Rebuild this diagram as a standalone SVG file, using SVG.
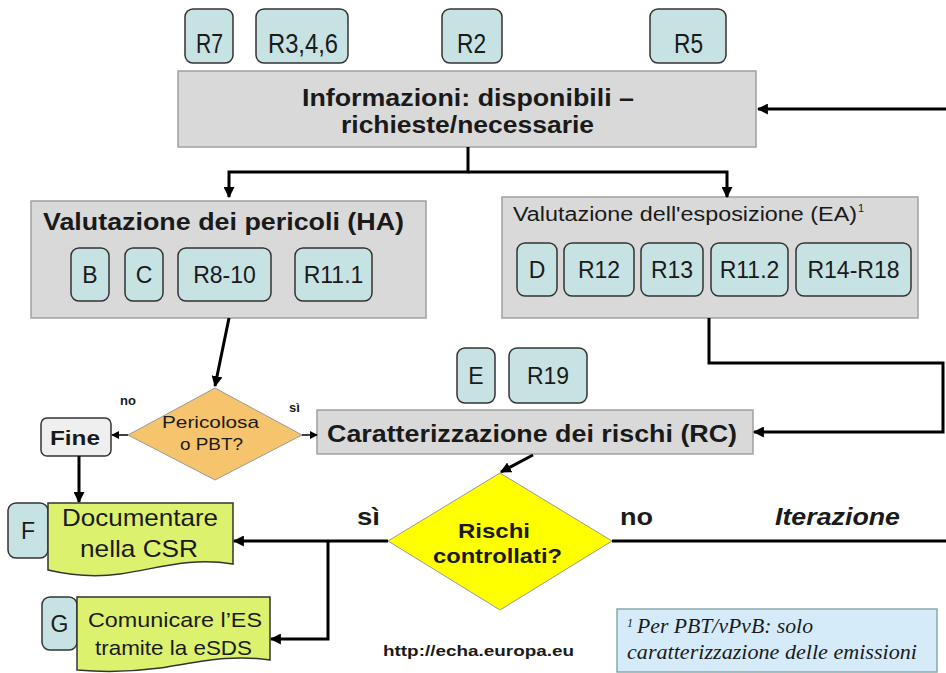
<svg xmlns="http://www.w3.org/2000/svg" width="946" height="673" viewBox="0 0 946 673">
<defs>
<marker id="ah" viewBox="0 0 10 10" refX="9" refY="5" markerWidth="11" markerHeight="11" markerUnits="userSpaceOnUse" orient="auto"><path d="M0,0 L10,5 L0,10 z" fill="#000"/></marker>
<marker id="ahs" viewBox="0 0 10 10" refX="9" refY="5" markerWidth="8" markerHeight="8" markerUnits="userSpaceOnUse" orient="auto"><path d="M0,0 L10,5 L0,10 z" fill="#000"/></marker>
</defs>
<style>
.tag{fill:#c6e2e3;stroke:#333;stroke-width:1.5}
.tt{font-family:"Liberation Sans",Arial,sans-serif;font-size:23px;fill:#1a1a1a;text-anchor:middle}
.tn{font-family:"Liberation Sans",Arial,sans-serif;font-size:28px;fill:#1a1a1a}
.gbox{fill:#d9d9d9;stroke:#a0a0a0;stroke-width:1.5}
.bt{font-family:"Liberation Sans",Arial,sans-serif;font-weight:bold;fill:#1a1a1a}
.rt{font-family:"Liberation Sans",Arial,sans-serif;fill:#1a1a1a}
.doc{fill:#dcf26e;stroke:#333;stroke-width:1.5}
.c{fill:none;stroke:#000;stroke-width:3}
.cs{fill:none;stroke:#000;stroke-width:1.5}
</style>
<rect width="946" height="673" fill="#fff"/>

<g id="top-tags">
<rect class="tag" x="185" y="9" width="48" height="54" rx="8"/><text class="tn" x="196" y="53" textLength="27" lengthAdjust="spacingAndGlyphs">R7</text>
<rect class="tag" x="256" y="9" width="92" height="54" rx="8"/><text class="tn" x="268" y="53" textLength="70" lengthAdjust="spacingAndGlyphs">R3,4,6</text>
<rect class="tag" x="442" y="9" width="60" height="54" rx="8"/><text class="tn" x="457" y="53" textLength="29" lengthAdjust="spacingAndGlyphs">R2</text>
<rect class="tag" x="650" y="9" width="76" height="54" rx="8"/><text class="tn" x="674" y="53" textLength="29" lengthAdjust="spacingAndGlyphs">R5</text>
</g>

<g id="info">
<rect class="gbox" x="178" y="71" width="578" height="76"/>
<text class="bt" x="302" y="106" font-size="23" textLength="332" lengthAdjust="spacingAndGlyphs">Informazioni: disponibili –</text>
<text class="bt" x="341" y="133" font-size="23" textLength="253" lengthAdjust="spacingAndGlyphs">richieste/necessarie</text>
</g>

<g id="ha">
<rect class="gbox" x="31" y="201" width="395" height="117"/>
<text class="bt" x="43" y="230" font-size="23" textLength="361" lengthAdjust="spacingAndGlyphs">Valutazione dei pericoli (HA)</text>
<rect class="tag" x="71" y="248" width="38" height="53" rx="8"/><text class="tt" x="90" y="283">B</text>
<rect class="tag" x="125" y="248" width="38" height="53" rx="8"/><text class="tt" x="144" y="283">C</text>
<rect class="tag" x="178" y="248" width="93" height="53" rx="8"/><text class="tt" x="224.5" y="283">R8-10</text>
<rect class="tag" x="295" y="248" width="77" height="53" rx="8"/><text class="tt" x="333.5" y="283">R11.1</text>
</g>

<g id="ea">
<rect class="gbox" x="502" y="197" width="416" height="121"/>
<text class="rt" x="513" y="221" font-size="20" textLength="344" lengthAdjust="spacingAndGlyphs">Valutazione dell'esposizione (EA)</text>
<text class="rt" x="858" y="212" font-size="11">1</text>
<rect class="tag" x="517" y="243" width="40" height="53" rx="8"/><text class="tt" x="537" y="278">D</text>
<rect class="tag" x="564" y="243" width="70" height="53" rx="8"/><text class="tt" x="599" y="278">R12</text>
<rect class="tag" x="641" y="243" width="62" height="53" rx="8"/><text class="tt" x="672" y="278">R13</text>
<rect class="tag" x="711" y="243" width="77" height="53" rx="8"/><text class="tt" x="749.5" y="278">R11.2</text>
<rect class="tag" x="796" y="243" width="115" height="53" rx="8"/><text class="tt" x="853.5" y="278">R14-R18</text>
</g>

<g id="pericolosa">
<polygon points="215,388 302,435 215,480 128,435" fill="#f5c46c" stroke="#999" stroke-width="1"/>
<text class="rt" x="162" y="428" font-size="17" textLength="97" lengthAdjust="spacingAndGlyphs">Pericolosa</text>
<text class="rt" x="180" y="450" font-size="17" textLength="63" lengthAdjust="spacingAndGlyphs">o PBT?</text>
</g>

<g id="fine">
<rect x="41" y="418" width="70" height="38" rx="6" fill="#efefef" stroke="#333" stroke-width="1.5"/>
<text class="bt" x="50" y="445" font-size="21" textLength="50" lengthAdjust="spacingAndGlyphs">Fine</text>
</g>

<g id="er19">
<rect class="tag" x="457" y="348" width="38" height="55" rx="8"/><text class="tt" x="476" y="384">E</text>
<rect class="tag" x="509" y="348" width="78" height="55" rx="8"/><text class="tt" x="548" y="384">R19</text>
</g>

<g id="rc">
<rect class="gbox" x="317" y="410" width="436" height="44"/>
<text class="bt" x="327" y="442" font-size="23" textLength="410" lengthAdjust="spacingAndGlyphs">Caratterizzazione dei rischi (RC)</text>
</g>

<g id="rischi">
<polygon points="500,473 612,541 500,610 388,541" fill="#ffff00" stroke="#999" stroke-width="1"/>
<text class="bt" x="458" y="538" font-size="21" textLength="72" lengthAdjust="spacingAndGlyphs">Rischi</text>
<text class="bt" x="433" y="563" font-size="21" textLength="129" lengthAdjust="spacingAndGlyphs">controllati?</text>
</g>

<g id="docF">
<rect class="tag" x="8" y="503" width="40" height="55" rx="8"/><text class="tt" x="28" y="539">F</text>
<path class="doc" d="M48,503 H233 V564 C190,557 160,568 120,574 C90,578 65,574 48,570 Z"/>
<text class="rt" x="62" y="526" font-size="24" textLength="156" lengthAdjust="spacingAndGlyphs">Documentare</text>
<text class="rt" x="80" y="557" font-size="24" textLength="118" lengthAdjust="spacingAndGlyphs">nella CSR</text>
</g>

<g id="docG">
<rect class="tag" x="42" y="597" width="35" height="53" rx="8"/><text class="tt" x="59.5" y="632">G</text>
<path class="doc" d="M77,597 H270 V660 C230,654 200,662 160,668 C130,672 100,672 77,670 Z"/>
<text class="rt" x="88" y="627" font-size="21" textLength="174" lengthAdjust="spacingAndGlyphs">Comunicare l’ES</text>
<text class="rt" x="95" y="655" font-size="21" textLength="157" lengthAdjust="spacingAndGlyphs">tramite la eSDS</text>
</g>

<g id="note">
<rect x="617" y="609" width="320" height="63" fill="#d6ebfa" stroke="#8aa" stroke-width="1.5"/>
<text x="627" y="627" font-family="'Liberation Serif','Times New Roman',serif" font-style="italic" font-size="12" fill="#1a1a1a">1</text>
<text x="637" y="633" font-family="'Liberation Serif','Times New Roman',serif" font-style="italic" font-size="20" fill="#1a1a1a" textLength="176" lengthAdjust="spacingAndGlyphs">Per PBT/vPvB: solo</text>
<text x="627" y="659" font-family="'Liberation Serif','Times New Roman',serif" font-style="italic" font-size="20" fill="#1a1a1a" textLength="290" lengthAdjust="spacingAndGlyphs">caratterizzazione delle emissioni</text>
</g>

<g id="labels">
<text class="bt" x="120" y="405" font-size="13">no</text>
<text class="bt" x="289" y="412" font-size="13">sì</text>
<text class="bt" x="357" y="525" font-size="23" textLength="23" lengthAdjust="spacingAndGlyphs">sì</text>
<text class="bt" x="620" y="525" font-size="23" textLength="33" lengthAdjust="spacingAndGlyphs">no</text>
<text class="bt" x="775" y="525" font-size="23" font-style="italic" textLength="125" lengthAdjust="spacingAndGlyphs">Iterazione</text>
<text class="bt" x="383" y="656" font-size="15" textLength="191" lengthAdjust="spacingAndGlyphs">http://echa.europa.eu</text>
</g>

<g id="connectors">
<path class="c" d="M946,109 H758" marker-end="url(#ah)"/>
<path class="c" d="M468,147 V172 H229 V197" marker-end="url(#ah)"/>
<path class="c" d="M468,172 H727 V197" marker-end="url(#ah)"/>
<path class="c" d="M229,318 L215,386" marker-end="url(#ah)"/>
<path class="cs" d="M128,435 H112" marker-end="url(#ahs)"/>
<path class="cs" d="M302,435 H317" marker-end="url(#ahs)"/>
<path class="c" d="M709,318 V363 H943 V432 H754" marker-end="url(#ah)"/>
<path class="c" d="M533,455 L501,472" marker-end="url(#ah)"/>
<path class="c" d="M388,541 H234" marker-end="url(#ah)"/>
<path class="c" d="M328,541 V639 H271" marker-end="url(#ah)"/>
<path class="c" d="M612,541 H946"/>
<path class="c" d="M79,456 V502" marker-end="url(#ah)"/>
</g>
</svg>
